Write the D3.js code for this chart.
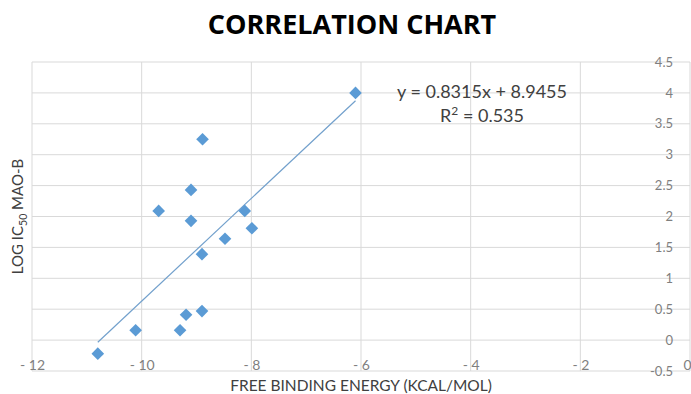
<!DOCTYPE html>
<html>
<head>
<meta charset="utf-8">
<script src="https://cdn.jsdelivr.net/npm/d3@7"></script>
<style>
  body { margin: 0; background: #fff; }
  text { font-family: Lato, "Open Sans", sans-serif; }
</style>
</head>
<body>
<div id="chart"></div>
<script>
// free binding energy (kcal/mol) and log IC50 MAO-B
var energy = [-6.10, -8.89, -9.10, -9.69, -9.10, -8.12, -7.99, -8.48, -8.90, -8.90, -9.19, -9.30, -10.11, -10.80];
var logIC50 = [4.00, 3.25, 2.43, 2.09, 1.93, 2.09, 1.81, 1.64, 1.39, 0.47, 0.41, 0.16, 0.16, -0.22];

var xTicks = [-12, -10, -8, -6, -4, -2, 0];
var yTicks = [-0.5, 0, 0.5, 1, 1.5, 2, 2.5, 3, 3.5, 4, 4.5];

// linear trendline as given on the chart
var slope = 0.8315, intercept = 8.9455, rSquared = 0.535;

var fullWidth = 691, fullHeight = 394;
var plot = {left: 32, right: 690, top: 62, bottom: 371};

var data = energy.map(function(d, i) { return {x: d, y: logIC50[i]}; });

var svg = d3.select("#chart").append("svg")
    .attr("width", fullWidth)
    .attr("height", fullHeight);

var xScale = d3.scaleLinear().domain([-12, 0]).range([plot.left, plot.right]);
var yScale = d3.scaleLinear().domain([-0.5, 4.5]).range([plot.bottom, plot.top]);

// gridlines
svg.append("g").selectAll("line")
    .data(yTicks).enter().append("line")
    .attr("x1", plot.left).attr("x2", plot.right)
    .attr("y1", function(d) { return yScale(d); })
    .attr("y2", function(d) { return yScale(d); })
    .attr("stroke", "#d9d9d9").attr("stroke-width", 1);

svg.append("g").selectAll("line")
    .data(xTicks).enter().append("line")
    .attr("x1", function(d) { return xScale(d); })
    .attr("x2", function(d) { return xScale(d); })
    .attr("y1", plot.top).attr("y2", plot.bottom)
    .attr("stroke", "#d9d9d9").attr("stroke-width", 1);

// x axis labels sit just above the bottom edge
var xAxis = svg.append("g")
    .attr("transform", "translate(0," + plot.bottom + ")")
    .call(d3.axisTop(xScale)
        .tickValues(xTicks)
        .tickSize(0)
        .tickPadding(1)
        .tickFormat(function(d) { return d < 0 ? "- " + Math.abs(d) : d; }));
xAxis.select(".domain").remove();
xAxis.selectAll("text")
    .style("font-family", "Lato, sans-serif")
    .style("font-size", "14px")
    .attr("fill", "#7f7f7f");
// keep the last label (0) inside the picture
xAxis.selectAll("text")
    .filter(function(d) { return d === 0; })
    .attr("text-anchor", "end")
    .attr("x", 1);

// y axis on the right (crosses at x = 0)
var yAxis = svg.append("g")
    .attr("transform", "translate(" + plot.right + ",0)")
    .call(d3.axisLeft(yScale)
        .tickValues(yTicks)
        .tickSize(0)
        .tickPadding(17)
        .tickFormat(function(d) { return d; }));
yAxis.select(".domain").remove();
yAxis.selectAll("text")
    .style("font-family", "Lato, sans-serif")
    .style("font-size", "13px")
    .attr("fill", "#7f7f7f");

// trendline
var xMin = d3.min(energy), xMax = d3.max(energy);
var line = d3.line()
    .x(function(d) { return xScale(d); })
    .y(function(d) { return yScale(slope * d + intercept); });

svg.append("path")
    .datum([xMin, xMax])
    .attr("d", line)
    .attr("fill", "none")
    .attr("stroke", "#72a0cc")
    .attr("stroke-width", 1.2);

// points
svg.append("g").selectAll("path")
    .data(data).enter().append("path")
    .attr("d", d3.symbol(d3.symbolSquare, 80))
    .attr("transform", function(d) {
        return "translate(" + xScale(d.x) + "," + yScale(d.y) + ") rotate(45)";
    })
    .attr("fill", "#5b9bd5");

// equation
svg.append("text")
    .attr("x", 482).attr("y", 98)
    .attr("text-anchor", "middle")
    .style("font-size", "18px")
    .attr("fill", "#404040")
    .text("y = " + slope + "x + " + intercept);

var r2 = svg.append("text")
    .attr("x", 482).attr("y", 122)
    .attr("text-anchor", "middle")
    .style("font-size", "18px")
    .attr("fill", "#404040");
r2.append("tspan").text("R");
r2.append("tspan").attr("dy", -7).style("font-size", "12px").text("2");
r2.append("tspan").attr("dy", 7).text(" = " + rSquared);

// title
svg.append("text")
    .attr("x", 352).attr("y", 34)
    .attr("text-anchor", "middle")
    .style("font-family", "'Open Sans', sans-serif")
    .style("font-size", "27px")
    .style("font-weight", "bold")
    .attr("fill", "#000")
    .text("CORRELATION CHART");

// axis titles
svg.append("text")
    .attr("x", 361).attr("y", 391)
    .attr("text-anchor", "middle")
    .style("font-size", "15.5px")
    .attr("fill", "#404040")
    .text("FREE BINDING ENERGY (KCAL/MOL)");

var yTitle = svg.append("text")
    .attr("transform", "translate(23," + ((plot.top + plot.bottom) / 2) + ") rotate(-90)")
    .attr("text-anchor", "middle")
    .style("font-size", "15px")
    .attr("fill", "#404040");
yTitle.append("tspan").text("LOG IC");
yTitle.append("tspan").attr("dy", 4).style("font-size", "10.5px").text("50");
yTitle.append("tspan").attr("dy", -4).text(" MAO-B");
</script>
</body>
</html>
